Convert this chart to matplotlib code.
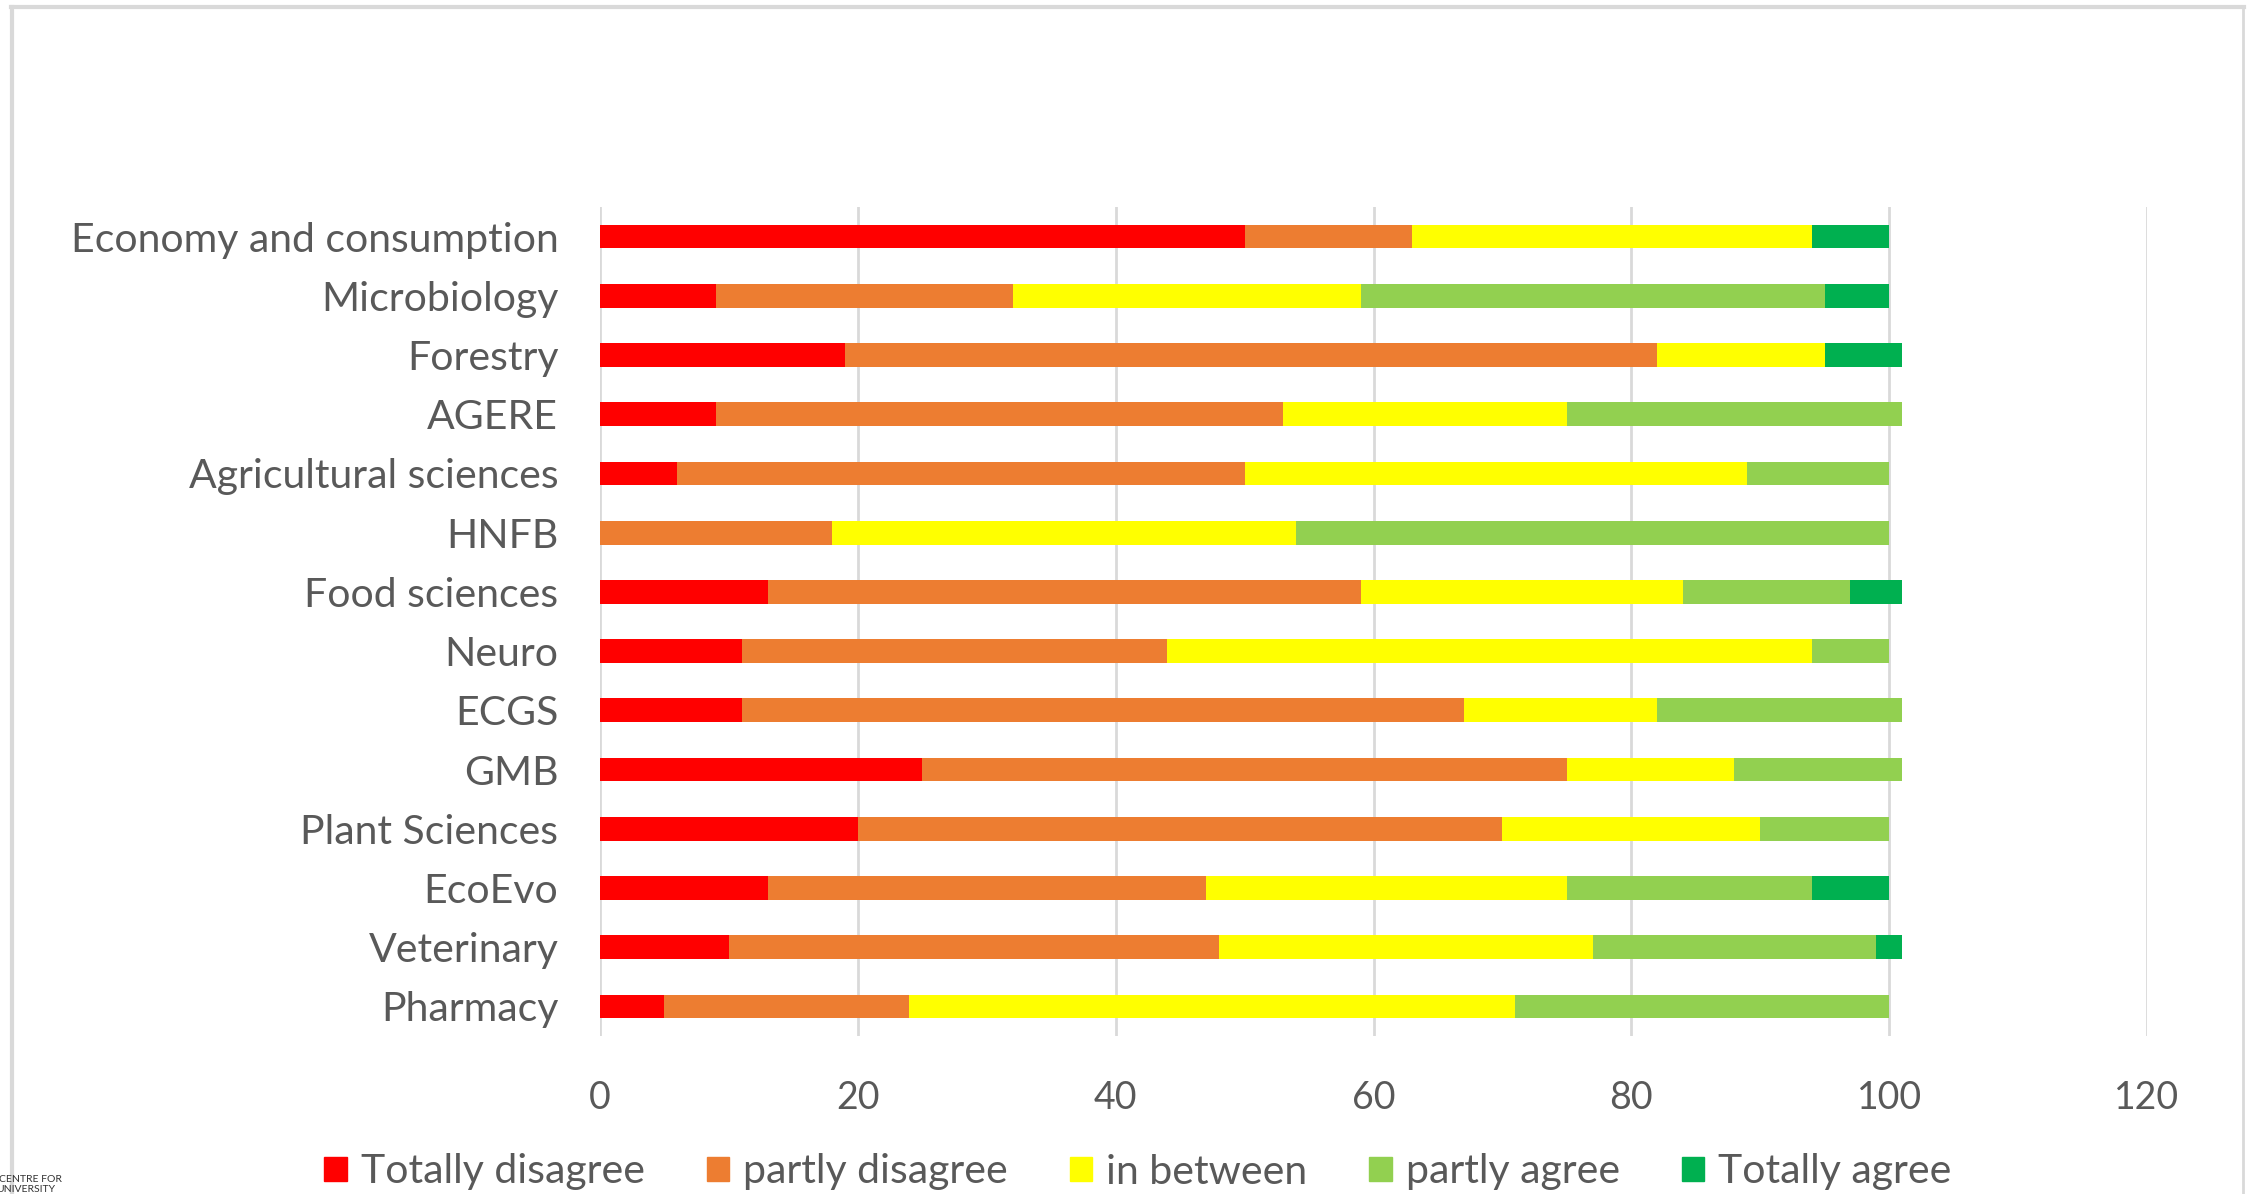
import matplotlib
matplotlib.use("Agg")
import matplotlib.pyplot as plt
from matplotlib.patches import Rectangle
from matplotlib.lines import Line2D
import numpy as np

categories = ["Economy and consumption", "Microbiology", "Forestry", "AGERE",
              "Agricultural sciences", "HNFB", "Food sciences", "Neuro", "ECGS",
              "GMB", "Plant Sciences", "EcoEvo", "Veterinary", "Pharmacy"]
series_names = ["Totally disagree", "partly disagree", "in between", "partly agree", "Totally agree"]
totally_disagree = [50, 9, 19, 9, 6, 0, 13, 11, 11, 25, 20, 13, 10, 5]
partly_disagree  = [13, 23, 63, 44, 44, 18, 46, 33, 56, 50, 50, 34, 38, 19]
in_between       = [31, 27, 13, 22, 39, 36, 25, 50, 15, 13, 20, 28, 29, 47]
partly_agree     = [0, 36, 0, 26, 11, 46, 13, 6, 19, 13, 10, 19, 22, 29]
totally_agree    = [6, 5, 6, 0, 0, 0, 4, 0, 0, 0, 0, 6, 2, 0]
x_ticks = [0, 20, 40, 60, 80, 100, 120]

colors = ["#FF0000", "#ED7D31", "#FFFF00", "#92D050", "#00B050"]
text_color = "#595959"

plt.rcParams['font.family'] = ['Lato', 'DejaVu Sans']

W, H = 2252, 1194
fig = plt.figure(figsize=(W / 100, H / 100), dpi=100)
ax = fig.add_axes([600 / W, 1 - 1036 / H, (2147 - 600) / W, (1036 - 207) / H])

n = len(categories)
y = np.arange(n)[::-1]
left = np.zeros(n)
series = [totally_disagree, partly_disagree, in_between, partly_agree, totally_agree]
for name, vals, col in zip(series_names, series, colors):
    vals = np.array(vals, dtype=float)
    ax.barh(y, vals, left=left, height=0.4, color=col, label=name, zorder=3)
    left += vals

ax.set_xlim(0, 120)
ax.set_ylim(-0.5, n - 0.5)
ax.set_xticks(x_ticks)
ax.set_xticklabels([str(t) for t in x_ticks])
ax.set_yticks(y)
ax.set_yticklabels(categories)
ax.grid(axis='x', color='#d9d9d9', linewidth=2, zorder=0)
ax.set_axisbelow(True)
for s in ax.spines.values():
    s.set_visible(False)
ax.tick_params(axis='both', length=0, colors=text_color)
ax.tick_params(axis='y', labelsize=29.5, pad=30)
ax.tick_params(axis='x', labelsize=27, pad=32)

handles = [Rectangle((0, 0), 1, 1, color=c) for c in colors]
fig.legend(handles, series_names, loc='center', bbox_to_anchor=(1138 / W, 1 - 1172 / H),
           ncol=5, frameon=False, fontsize=29.5, labelcolor=text_color,
           handlelength=0.55, handleheight=0.55, handletextpad=0.35, columnspacing=1.5)

# outer chart border
fig.add_artist(Line2D([12 / W, 12 / W], [0, 1 - 7 / H], transform=fig.transFigure, color='#d9d9d9', lw=3))
fig.add_artist(Line2D([2243 / W, 2243 / W], [0, 1 - 7 / H], transform=fig.transFigure, color='#d9d9d9', lw=2))
fig.add_artist(Line2D([11 / W, 2244 / W], [1 - 7 / H, 1 - 7 / H], transform=fig.transFigure, color='#d9d9d9', lw=3))

fig.text(-1 / W, 1 - 1180 / H, "CENTRE FOR", fontsize=7.5, color='#333333', ha='left', va='center')
fig.text(-4 / W, 1 - 1190 / H, "UNIVERSITY", fontsize=7.5, color='#333333', ha='left', va='center')

fig.savefig("out.png", dpi=100, facecolor='white')
